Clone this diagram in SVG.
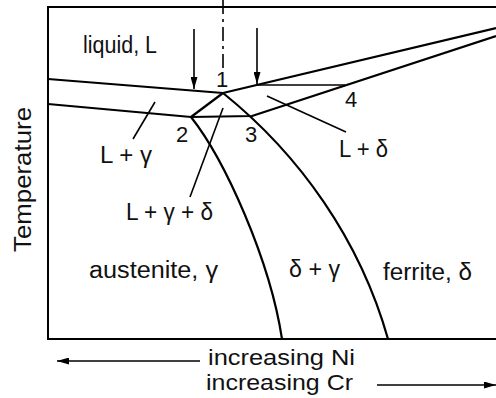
<svg xmlns="http://www.w3.org/2000/svg" width="496" height="398" viewBox="0 0 496 398">
<style>
  text { font-family: "Liberation Sans", Arial, sans-serif; fill: #111; }
  .lbl { font-size: 23px; }
  .num { font-size: 22px; text-anchor: middle; }
  .phase { fill: none; stroke: #000; stroke-width: 2.2; stroke-linejoin: round; }
  .frame { fill: none; stroke: #000; stroke-width: 2; }
  .thin { fill: none; stroke: #000; stroke-width: 1.3; }
  .lead { fill: none; stroke: #000; stroke-width: 1.6; }
  .arr { fill: none; stroke: #000; stroke-width: 1.6; marker-end: url(#ah); }
</style>
<defs>
  <marker id="ah" markerUnits="userSpaceOnUse" markerWidth="12" markerHeight="7" refX="12" refY="3.5" orient="auto">
    <path d="M0,0 L12,3.5 L0,7 z" fill="#000"/>
  </marker>
</defs>
<rect width="496" height="398" fill="#fff"/>
<g id="frame">
  <path class="frame" d="M496,7 L48,7 L48,339 L496,339"/>
  <line x1="223" y1="0" x2="223" y2="70" stroke="#000" stroke-width="1.6" stroke-dasharray="14,5,3,5"/>
</g>
<g id="connectors">
  <path class="phase" d="M48,79 L223,93 L496,28"/>
  <path class="phase" d="M48,104 L191,117 L252,116 L496,36"/>
  <path class="phase" d="M191,117 L223,93"/>
  <path class="phase" d="M191,117 C225,160 270,260 282,339"/>
  <path class="phase" d="M223,93 C300,155 360,240 388,339"/>
  <line class="thin" x1="257" y1="85" x2="345" y2="85"/>
  <line class="arr" x1="194" y1="29" x2="194" y2="89"/>
  <line class="arr" x1="257" y1="28" x2="257" y2="84"/>
  <line class="lead" x1="155" y1="102" x2="133" y2="139"/>
  <line class="lead" x1="223" y1="108" x2="190" y2="197"/>
  <line class="lead" x1="267" y1="96" x2="346" y2="132"/>
  <line class="arr" x1="200" y1="361" x2="57" y2="361"/>
  <line class="arr" x1="377" y1="385" x2="496" y2="385"/>
</g>
<g id="point1"><text class="num" x="222" y="87">1</text></g>
<g id="point2"><text class="num" x="182" y="142">2</text></g>
<g id="point3"><text class="num" x="251" y="142">3</text></g>
<g id="point4"><text class="num" x="351" y="107">4</text></g>
<g id="liquid"><text class="lbl" x="83" y="53" textLength="74" lengthAdjust="spacingAndGlyphs">liquid, L</text></g>
<g id="l-gamma"><text class="lbl" x="100" y="163" textLength="52" lengthAdjust="spacingAndGlyphs">L + γ</text></g>
<g id="l-gamma-delta"><text class="lbl" x="126" y="220" textLength="87" lengthAdjust="spacingAndGlyphs">L + γ + δ</text></g>
<g id="l-delta"><text class="lbl" x="339" y="157" textLength="49" lengthAdjust="spacingAndGlyphs">L + δ</text></g>
<g id="austenite"><text class="lbl" x="89" y="278" textLength="129" lengthAdjust="spacingAndGlyphs">austenite, γ</text></g>
<g id="delta-gamma"><text class="lbl" x="289" y="277" textLength="51" lengthAdjust="spacingAndGlyphs">δ + γ</text></g>
<g id="ferrite"><text class="lbl" x="383" y="280" textLength="89" lengthAdjust="spacingAndGlyphs">ferrite, δ</text></g>
<g id="axis-y"><text class="lbl" x="-72" y="0" transform="translate(31,180) rotate(-90)" style="font-size:24px" textLength="145" lengthAdjust="spacingAndGlyphs">Temperature</text></g>
<g id="axis-x">
  <text class="lbl" x="208" y="365" style="font-size:22px" textLength="147" lengthAdjust="spacingAndGlyphs">increasing Ni</text>
  <text class="lbl" x="206" y="390" style="font-size:22px" textLength="147" lengthAdjust="spacingAndGlyphs">increasing Cr</text>
</g>
</svg>
